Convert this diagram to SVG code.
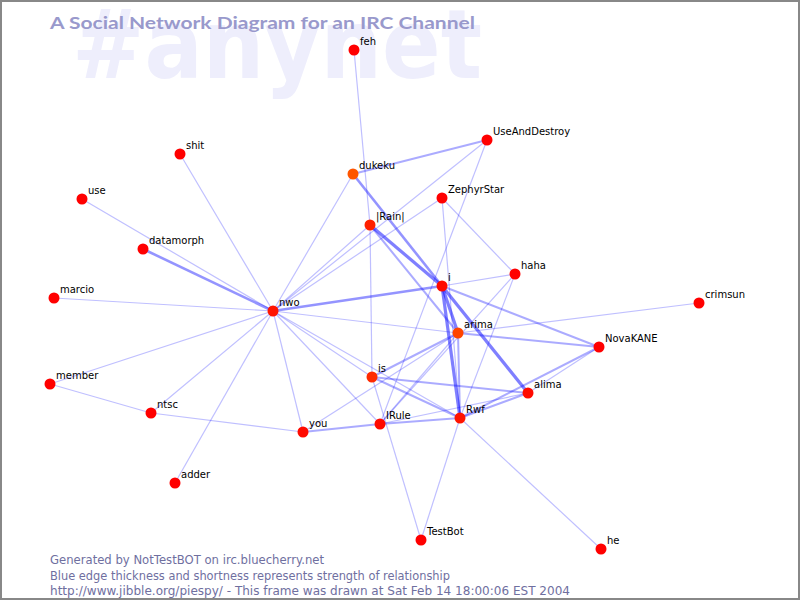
<svg xmlns="http://www.w3.org/2000/svg" width="800" height="600" viewBox="0 0 800 600">
<style>
.e1{stroke:#0000ff;stroke-opacity:0.25;stroke-width:1.2;fill:none}
.e2{stroke:#0000ff;stroke-opacity:0.33;stroke-width:2;fill:none}
.e3{stroke:#0000ff;stroke-opacity:0.42;stroke-width:2.6;fill:none}
.e4{stroke:#0000ff;stroke-opacity:0.5;stroke-width:3.2;fill:none}
.n circle{stroke:none}
.n text{font-family:"DejaVu Sans","Liberation Sans",sans-serif;font-size:10px;fill:#000}
.foot{font-family:"DejaVu Sans","Liberation Sans",sans-serif;font-size:12px;fill:#6f6f9f}
</style>
<rect x="0" y="0" width="800" height="600" fill="#ffffff"/>
<rect x="1" y="1" width="798" height="598" fill="none" stroke="#888888" stroke-width="2"/>
<text x="72" y="78" font-family="DejaVu Sans, sans-serif" font-weight="bold" font-size="96" fill="#eeeefc" textLength="410" lengthAdjust="spacingAndGlyphs">#anynet</text>
<text x="50" y="29" font-family="Lato, 'DejaVu Sans', sans-serif" font-weight="bold" font-size="17" fill="#9999cc" textLength="425" lengthAdjust="spacingAndGlyphs">A Social Network Diagram for an IRC Channel</text>
<g id="connectors">
<line class="e1" x1="273" y1="311" x2="180" y2="154"/>
<line class="e1" x1="273" y1="311" x2="82" y2="199"/>
<line class="e3" x1="273" y1="311" x2="143" y2="249"/>
<line class="e1" x1="273" y1="311" x2="54" y2="298"/>
<line class="e1" x1="273" y1="311" x2="50" y2="384"/>
<line class="e1" x1="273" y1="311" x2="151" y2="413"/>
<line class="e1" x1="273" y1="311" x2="175" y2="483"/>
<line class="e1" x1="273" y1="311" x2="303" y2="432"/>
<line class="e1" x1="273" y1="311" x2="380" y2="424"/>
<line class="e1" x1="273" y1="311" x2="372" y2="377"/>
<line class="e1" x1="273" y1="311" x2="460" y2="418"/>
<line class="e1" x1="273" y1="311" x2="458" y2="333"/>
<line class="e3" x1="273" y1="311" x2="442" y2="286"/>
<line class="e1" x1="273" y1="311" x2="370" y2="225"/>
<line class="e1" x1="273" y1="311" x2="353" y2="174"/>
<line class="e1" x1="273" y1="311" x2="442" y2="198"/>
<line class="e1" x1="273" y1="311" x2="487" y2="140"/>
<line class="e1" x1="50" y1="384" x2="151" y2="413"/>
<line class="e1" x1="151" y1="413" x2="303" y2="432"/>
<line class="e2" x1="303" y1="432" x2="380" y2="424"/>
<line class="e1" x1="303" y1="432" x2="458" y2="333"/>
<line class="e1" x1="354" y1="50" x2="370" y2="225"/>
<line class="e2" x1="353" y1="174" x2="487" y2="140"/>
<line class="e3" x1="353" y1="174" x2="442" y2="286"/>
<line class="e4" x1="370" y1="225" x2="442" y2="286"/>
<line class="e2" x1="370" y1="225" x2="458" y2="333"/>
<line class="e1" x1="370" y1="225" x2="372" y2="377"/>
<line class="e1" x1="487" y1="140" x2="380" y2="424"/>
<line class="e1" x1="442" y1="198" x2="515" y2="274"/>
<line class="e1" x1="442" y1="198" x2="460" y2="418"/>
<line class="e1" x1="442" y1="286" x2="515" y2="274"/>
<line class="e4" x1="442" y1="286" x2="458" y2="333"/>
<line class="e4" x1="442" y1="286" x2="460" y2="418"/>
<line class="e4" x1="442" y1="286" x2="528" y2="393"/>
<line class="e2" x1="442" y1="286" x2="599" y2="347"/>
<line class="e1" x1="515" y1="274" x2="380" y2="424"/>
<line class="e1" x1="515" y1="274" x2="460" y2="418"/>
<line class="e1" x1="458" y1="333" x2="699" y2="303"/>
<line class="e2" x1="458" y1="333" x2="599" y2="347"/>
<line class="e2" x1="458" y1="333" x2="460" y2="418"/>
<line class="e2" x1="458" y1="333" x2="372" y2="377"/>
<line class="e1" x1="458" y1="333" x2="380" y2="424"/>
<line class="e2" x1="372" y1="377" x2="528" y2="393"/>
<line class="e2" x1="372" y1="377" x2="460" y2="418"/>
<line class="e1" x1="372" y1="377" x2="421" y2="540"/>
<line class="e2" x1="380" y1="424" x2="460" y2="418"/>
<line class="e1" x1="380" y1="424" x2="528" y2="393"/>
<line class="e2" x1="460" y1="418" x2="528" y2="393"/>
<line class="e2" x1="460" y1="418" x2="599" y2="347"/>
<line class="e1" x1="528" y1="393" x2="599" y2="347"/>
<line class="e1" x1="460" y1="418" x2="421" y2="540"/>
<line class="e1" x1="460" y1="418" x2="601" y2="549"/>
</g>
<g id="feh" class="n"><circle cx="354" cy="50" r="5.5" fill="#ff0000"/><text x="360" y="45">feh</text></g>
<g id="shit" class="n"><circle cx="180" cy="154" r="5.5" fill="#ff0000"/><text x="186" y="149">shit</text></g>
<g id="use" class="n"><circle cx="82" cy="199" r="5.5" fill="#ff0000"/><text x="88" y="194">use</text></g>
<g id="datamorph" class="n"><circle cx="143" cy="249" r="5.5" fill="#ff0000"/><text x="149" y="244">datamorph</text></g>
<g id="marcio" class="n"><circle cx="54" cy="298" r="5.5" fill="#ff0000"/><text x="60" y="293">marcio</text></g>
<g id="nwo" class="n"><circle cx="273" cy="311" r="5.5" fill="#ff1400"/><text x="279" y="306">nwo</text></g>
<g id="member" class="n"><circle cx="50" cy="384" r="5.5" fill="#ff0000"/><text x="56" y="379">member</text></g>
<g id="ntsc" class="n"><circle cx="151" cy="413" r="5.5" fill="#ff0000"/><text x="157" y="408">ntsc</text></g>
<g id="adder" class="n"><circle cx="175" cy="483" r="5.5" fill="#ff0000"/><text x="181" y="478">adder</text></g>
<g id="you" class="n"><circle cx="303" cy="432" r="5.5" fill="#ff0a00"/><text x="309" y="427">you</text></g>
<g id="is" class="n"><circle cx="372" cy="377" r="5.5" fill="#ff2a00"/><text x="378" y="372">is</text></g>
<g id="IRule" class="n"><circle cx="380" cy="424" r="5.5" fill="#ff0a00"/><text x="386" y="419">IRule</text></g>
<g id="Rwf" class="n"><circle cx="460" cy="418" r="5.5" fill="#ff1400"/><text x="466" y="413">Rwf</text></g>
<g id="alima" class="n"><circle cx="528" cy="393" r="5.5" fill="#ff0a00"/><text x="534" y="388">alima</text></g>
<g id="arima" class="n"><circle cx="458" cy="333" r="5.5" fill="#ff4400"/><text x="464" y="328">arima</text></g>
<g id="i" class="n"><circle cx="442" cy="286" r="5.5" fill="#ff0a00"/><text x="448" y="281">i</text></g>
<g id="haha" class="n"><circle cx="515" cy="274" r="5.5" fill="#ff0000"/><text x="521" y="269">haha</text></g>
<g id="ZephyrStar" class="n"><circle cx="442" cy="198" r="5.5" fill="#ff0000"/><text x="448" y="193">ZephyrStar</text></g>
<g id="Rain" class="n"><circle cx="370" cy="225" r="5.5" fill="#ff2000"/><text x="376" y="220">|Rain|</text></g>
<g id="dukeku" class="n"><circle cx="353" cy="174" r="5.5" fill="#ff5500"/><text x="359" y="169">dukeku</text></g>
<g id="UseAndDestroy" class="n"><circle cx="487" cy="140" r="5.5" fill="#ff0000"/><text x="493" y="135">UseAndDestroy</text></g>
<g id="crimsun" class="n"><circle cx="699" cy="303" r="5.5" fill="#ff0000"/><text x="705" y="298">crimsun</text></g>
<g id="NovaKANE" class="n"><circle cx="599" cy="347" r="5.5" fill="#ff0000"/><text x="605" y="342">NovaKANE</text></g>
<g id="TestBot" class="n"><circle cx="421" cy="540" r="5.5" fill="#ff0000"/><text x="427" y="535">TestBot</text></g>
<g id="he" class="n"><circle cx="601" cy="549" r="5.5" fill="#ff0000"/><text x="607" y="544">he</text></g>
<text class="foot" x="50" y="564" textLength="274" lengthAdjust="spacingAndGlyphs">Generated by NotTestBOT on irc.bluecherry.net</text>
<text class="foot" x="50" y="580" textLength="400" lengthAdjust="spacingAndGlyphs">Blue edge thickness and shortness represents strength of relationship</text>
<text class="foot" x="50" y="595" textLength="520" lengthAdjust="spacingAndGlyphs">http://www.jibble.org/piespy/ - This frame was drawn at Sat Feb 14 18:00:06 EST 2004</text>
</svg>
